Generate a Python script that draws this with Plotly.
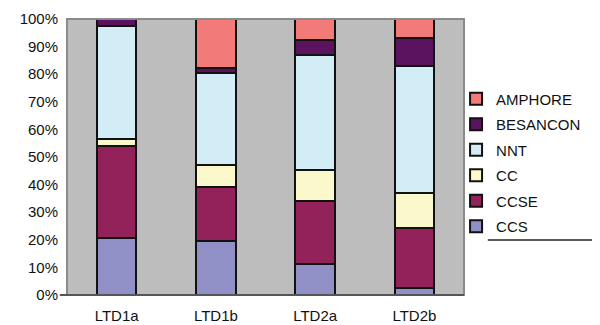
import plotly.graph_objects as go

categorias = ['LTD1a', 'LTD1b', 'LTD2a', 'LTD2b']

ccs = [20.5, 19.6, 11.3, 2.4]
ccse = [33.4, 19.6, 22.7, 21.9]
cc = [2.5, 8.0, 11.3, 12.5]
nnt = [41.2, 33.4, 41.6, 46.3]
besancon = [2.4, 1.8, 5.6, 9.9]
amphore = [0.0, 17.6, 7.5, 7.0]

series = [
    ('CCS', ccs, '#9090C6'),
    ('CCSE', ccse, '#93225B'),
    ('CC', cc, '#FBF8CB'),
    ('NNT', nnt, '#D2EDF5'),
    ('BESANCON', besancon, '#5B1360'),
    ('AMPHORE', amphore, '#F27B7A'),
]

fig = go.Figure()

for i, (nombre, valores, color) in enumerate(series):
    fig.add_trace(go.Bar(
        x= categorias,
        y= valores,
        name= nombre,
        legendgroup= nombre,
        legendrank= len(series) - i,
        marker= dict(color= color, line= dict(color= '#111111', width= 2)),
    ))

# la pagina tiene 8px de margen en body: se compensa con el tamaño
fig.update_layout(
    width= 592,
    height= 317,
    barmode= 'stack',
    barnorm= 'percent',
    bargap= 0.6,
    paper_bgcolor= 'white',
    plot_bgcolor= '#BDBDBD',
    margin= dict(l=59, r=136, t=11, b=30, autoexpand= False),
    font= dict(family= 'Liberation Sans, Arial, sans-serif', size= 15, color= '#111111'),
    legend= dict(
        x= 0.98,
        y= 0.48,
        xanchor= 'left',
        yanchor= 'middle',
        traceorder= 'grouped',
        tracegroupgap= 3,
        font= dict(size= 15),
        bgcolor= 'rgba(0,0,0,0)',
    ),
    xaxis= dict(
        showgrid= False,
        zeroline= False,
        ticks= '',
        ticklabelstandoff= 10,
    ),
    yaxis= dict(
        range= [0, 100],
        dtick= 10,
        ticksuffix= '%',
        showgrid= False,
        zeroline= False,
        ticks= '',
        ticklabelstandoff= 8,
    ),
)

# borde del area de trazado
fig.add_shape(
    type= 'rect', xref= 'paper', yref= 'paper',
    x0= 0, x1= 1, y0= 0, y1= 1,
    line= dict(color= '#8A8A8A', width= 2),
    layer= 'above',
)
# linea base con marca en 0%
fig.add_shape(
    type= 'line', xref= 'paper', yref= 'paper',
    x0= -0.018, x1= 1, y0= 0, y1= 0,
    line= dict(color= '#555555', width= 2),
    layer= 'above',
)
# linea bajo la leyenda
fig.add_shape(
    type= 'line', xref= 'paper', yref= 'paper',
    x0= 1.06, x1= 1.35, y0= 0.199, y1= 0.199,
    line= dict(color= '#222222', width= 1.5),
)

fig.write_html('out.html')
